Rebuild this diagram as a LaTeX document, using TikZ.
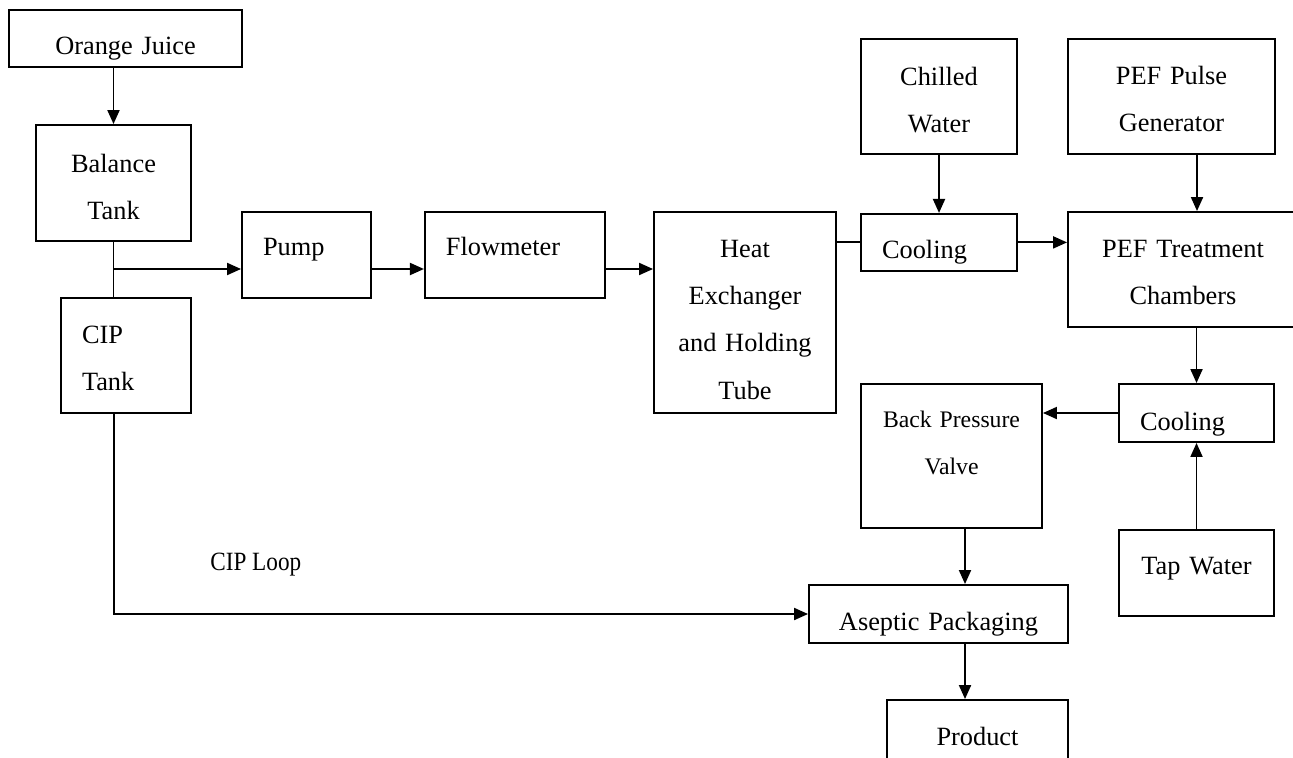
\documentclass[tikz,border=0pt]{standalone}
\usepackage{fontspec}
\setmainfont{Liberation Serif}
\usetikzlibrary{arrows.meta, positioning, calc}

\begin{document}
\begin{tikzpicture}[
  x=0.02cm, y=-0.02cm,
  unit/.style={rectangle, draw=black, line width=1.1pt, inner sep=0pt, align=center, text height=0pt, text depth=0pt, font=\fontsize{15}{27}\selectfont},
  unitl/.style={unit, inner xsep=0.42cm, align=left},
  basedown/.style={text height=#1},
  baseup/.style={text depth=#1},
  flow/.style={-{Triangle[length=0.28cm, width=0.24cm]}, line width=1.1pt},
  pipe/.style={line width=1.1pt},
  tag/.style={font=\fontsize{15}{27}\selectfont, inner sep=0pt, anchor=base west}
]
\useasboundingbox (0,0) rectangle (1293,757);
\clip (0,0) rectangle (1293,757);

% feed side
\node[unit, text width=4.66cm, minimum height=1.14cm, basedown=0.66cm] (juice) at (125.5,38.5) {Orange Juice};
\node[unit, text width=3.1cm, minimum height=2.32cm, baseup=0.44cm] (balance) at (113.5,183) {Balance\\Tank};
\node[unitl, text width=1.76cm, minimum height=2.3cm, baseup=0.5cm] (ciptank) at (126,355.5) {CIP\\Tank};
\node[unitl, text width=1.74cm, minimum height=1.72cm] (pump) at (306.5,255) {Pump};
\node[unitl, text width=2.76cm, minimum height=1.72cm, right=1.04cm of pump] (flowmeter) {Flowmeter};
\node[unit, text width=3.64cm, minimum height=4.02cm, baseup=2.22cm] (exchanger) at (745,312.5) {Heat\\Exchanger\\and Holding\\Tube};

% PEF section
\node[unit, text width=3.12cm, minimum height=2.3cm, baseup=0.46cm] (chilled) at (939,96.5) {Chilled\\Water};
\node[unitl, text width=2.28cm, minimum height=1.14cm, basedown=0.66cm, below=1.16cm of chilled] (coolA) {Cooling};
\node[unit, text width=4.14cm, minimum height=2.3cm, baseup=0.5cm] (pulse) at (1171.5,96.5) {PEF Pulse\\Generator};
\node[unit, text width=4.6cm, minimum height=2.3cm, baseup=0.5cm] (chambers) at (1183,269.5) {PEF Treatment\\Chambers};
\node[unitl, text width=2.26cm, minimum height=1.16cm, basedown=0.68cm] (coolB) at (1196.5,413) {Cooling};
\node[unit, text width=3.1cm, minimum height=1.72cm, basedown=0.08cm, below=1.72cm of coolB] (tap) {Tap Water};

% outlet
\node[unit, text width=3.62cm, minimum height=2.88cm, baseup=1.16cm, font=\fontsize{13.5}{27}\selectfont] (valve) at (951.5,456) {Back Pressure\\Valve};
\node[unit, text width=5.18cm, minimum height=1.16cm, basedown=0.64cm] (aseptic) at (938.5,614) {Aseptic Packaging};
\node[unit, text width=3.62cm, minimum height=1.24cm, basedown=0.56cm] (product) at (977.5,731) {Product};
\node[tag] (loop) at (210,570) {\scalebox{0.88}[1]{CIP Loop}};

\coordinate (tee) at (114,269);
\coordinate (drop) at (965,0);
\coordinate (feed) at (1197,0);

\draw[flow] (juice.south -| balance) -- (balance.north);
\draw[pipe] (balance.south) -- (balance.south |- ciptank.north);
\draw[flow] (tee) -- (tee -| pump.west);
\draw[flow] (pump.east |- tee) -- (flowmeter.west |- tee);
\draw[flow] (flowmeter.east |- tee) -- (exchanger.west |- tee);
\draw[pipe] (exchanger.east |- coolA) -- (coolA.west);
\draw[flow] (chilled.south) -- (coolA.north);
\draw[flow] (coolA.east) -- (coolA.east -| chambers.west);
\draw[flow] (pulse.south -| feed) -- (chambers.north -| feed);
\draw[flow] (chambers.south -| coolB) -- (coolB.north);
\draw[flow] (coolB.west) -- (coolB.west -| valve.east);
\draw[flow] (tap.north) -- (coolB.south);
\draw[flow] (valve.south -| drop) -- (aseptic.north -| drop);
\draw[flow] (aseptic.south -| drop) -- (product.north -| drop);
\draw[flow] (ciptank.south -| tee) |- (aseptic.west);
\end{tikzpicture}
\end{document}
